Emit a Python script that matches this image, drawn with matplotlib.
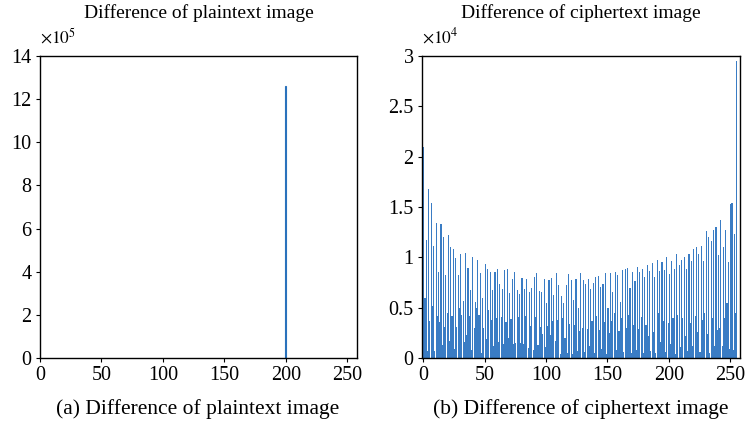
import matplotlib
matplotlib.use("Agg")
import matplotlib.pyplot as plt
import numpy as np

plt.rcParams['font.family'] = ['Liberation Serif', 'DejaVu Serif']
plt.rcParams['mathtext.fontset'] = 'stix'

# ---- data ----
plain_bins = [200]
plain_counts = [12.6]          # x 1e5

cipher_counts = [              # x 1e4, bins 0..255
    2.10, 0.60, 1.17, 0.07, 1.68, 0.37, 1.54, 0.52, 1.11, 0.07, 1.34, 0.42, 0.85, 0.36, 1.33, 0.13,
    1.20, 0.31, 0.82, 0.45, 1.22, 0.17, 1.10, 0.42, 1.08, 0.09, 0.99, 0.31, 0.82, 0.50, 1.03, 0.43,
    0.57, 0.16, 1.04, 0.23, 0.89, 0.42, 0.68, 0.08, 1.00, 0.30, 0.56, 0.50, 0.97, 0.43, 0.84, 0.05,
    0.60, 0.30, 0.93, 0.19, 0.88, 0.48, 0.85, 0.38, 0.68, 0.12, 0.85, 0.40, 0.88, 0.16, 0.74, 0.41,
    0.69, 0.14, 0.87, 0.36, 0.88, 0.20, 0.65, 0.39, 0.78, 0.14, 0.85, 0.15, 0.68, 0.41, 0.64, 0.15,
    0.79, 0.14, 0.69, 0.42, 0.78, 0.10, 0.66, 0.32, 0.70, 0.08, 0.80, 0.41, 0.84, 0.13, 0.67, 0.31,
    0.66, 0.24, 0.78, 0.11, 0.55, 0.32, 0.77, 0.23, 0.79, 0.37, 0.63, 0.17, 0.84, 0.38, 0.73, 0.04,
    0.62, 0.40, 0.55, 0.20, 0.73, 0.05, 0.83, 0.34, 0.77, 0.04, 0.58, 0.33, 0.78, 0.07, 0.50, 0.27,
    0.84, 0.30, 0.77, 0.06, 0.74, 0.29, 0.78, 0.12, 0.69, 0.37, 0.75, 0.05, 0.80, 0.42, 0.81, 0.28,
    0.71, 0.09, 0.74, 0.36, 0.84, 0.04, 0.50, 0.25, 0.84, 0.37, 0.66, 0.45, 0.85, 0.08, 0.82, 0.27,
    0.56, 0.40, 0.87, 0.06, 0.88, 0.30, 0.89, 0.43, 0.70, 0.05, 0.85, 0.33, 0.76, 0.08, 0.90, 0.29,
    0.85, 0.41, 0.88, 0.05, 0.80, 0.33, 0.92, 0.22, 0.86, 0.07, 0.94, 0.26, 0.80, 0.05, 0.97, 0.45,
    0.86, 0.16, 0.95, 0.37, 0.87, 0.06, 1.00, 0.35, 0.83, 0.14, 0.96, 0.40, 0.88, 0.04, 1.03, 0.43,
    0.92, 0.11, 0.97, 0.40, 1.00, 0.22, 0.88, 0.07, 1.03, 0.35, 0.96, 0.12, 1.08, 0.42, 1.10, 0.26,
    1.03, 0.06, 1.11, 0.38, 0.96, 0.45, 1.26, 0.24, 1.20, 0.05, 1.16, 0.40, 1.27, 0.12, 1.30, 0.28,
    1.02, 0.30, 1.37, 0.12, 1.10, 0.40, 1.27, 0.55, 0.95, 0.09, 1.53, 1.54, 0.08, 1.23, 0.45, 2.95,
]
cipher_bins = list(range(256))

xticks = [0, 50, 100, 150, 200, 250]
plain_yticks = [0, 2, 4, 6, 8, 10, 12, 14]
cipher_yticks = [0, 0.5, 1, 1.5, 2, 2.5, 3]
cipher_ytick_labels = ['0', '0.5', '1', '1.5', '2', '2.5', '3']

W, H = 746, 430
fig = plt.figure(figsize=(W / 100, H / 100), dpi=100)

def axrect(x0, y0, x1, y1):
    return [x0 / W, 1 - y1 / H, (x1 - x0) / W, (y1 - y0) / H]

fs_title = 14
fs_tick = 14.5
fs_cap = 15.5
fs_off = 12.5
bar_color = '#3a7cc4'

ax1 = fig.add_axes(axrect(40, 56, 357, 358))
ax1.bar(plain_bins, plain_counts, width=0.8, color='#2a72bc',
        edgecolor='#2a72bc', linewidth=0.8)
ax1.set_xlim(0, 258)
ax1.set_ylim(0, 14)
ax1.set_xticks(xticks)
ax1.set_yticks(plain_yticks)
ax1.set_title('Difference of plaintext image', fontsize=fs_title, pad=27)
ax1.text(0, 1.03, r'$\times 10^{5}$', transform=ax1.transAxes, fontsize=fs_off,
         ha='left', va='bottom')

ax2 = fig.add_axes(axrect(422, 56, 740, 358))
ax2.bar(cipher_bins, cipher_counts, width=0.9, align='edge', color=bar_color, linewidth=0)
ax2.set_xlim(-1, 258)
ax2.set_ylim(0, 3)
ax2.set_xticks(xticks)
ax2.set_yticks(cipher_yticks)
ax2.set_yticklabels(cipher_ytick_labels)
ax2.set_title('Difference of ciphertext image', fontsize=fs_title, pad=27)
ax2.text(0, 1.03, r'$\times 10^{4}$', transform=ax2.transAxes, fontsize=fs_off,
         ha='left', va='bottom')

for ax in (ax1, ax2):
    ax.tick_params(direction='out', length=3, width=0.8, labelsize=fs_tick, pad=3)
    for s in ax.spines.values():
        s.set_linewidth(1.0)

fig.text(198 / W, 1 - 409 / H, '(a) Difference of plaintext image', fontsize=fs_cap,
         ha='center', va='center')
fig.text(581 / W, 1 - 409 / H, '(b) Difference of ciphertext image', fontsize=fs_cap,
         ha='center', va='center')

fig.savefig('out.png', dpi=100)
